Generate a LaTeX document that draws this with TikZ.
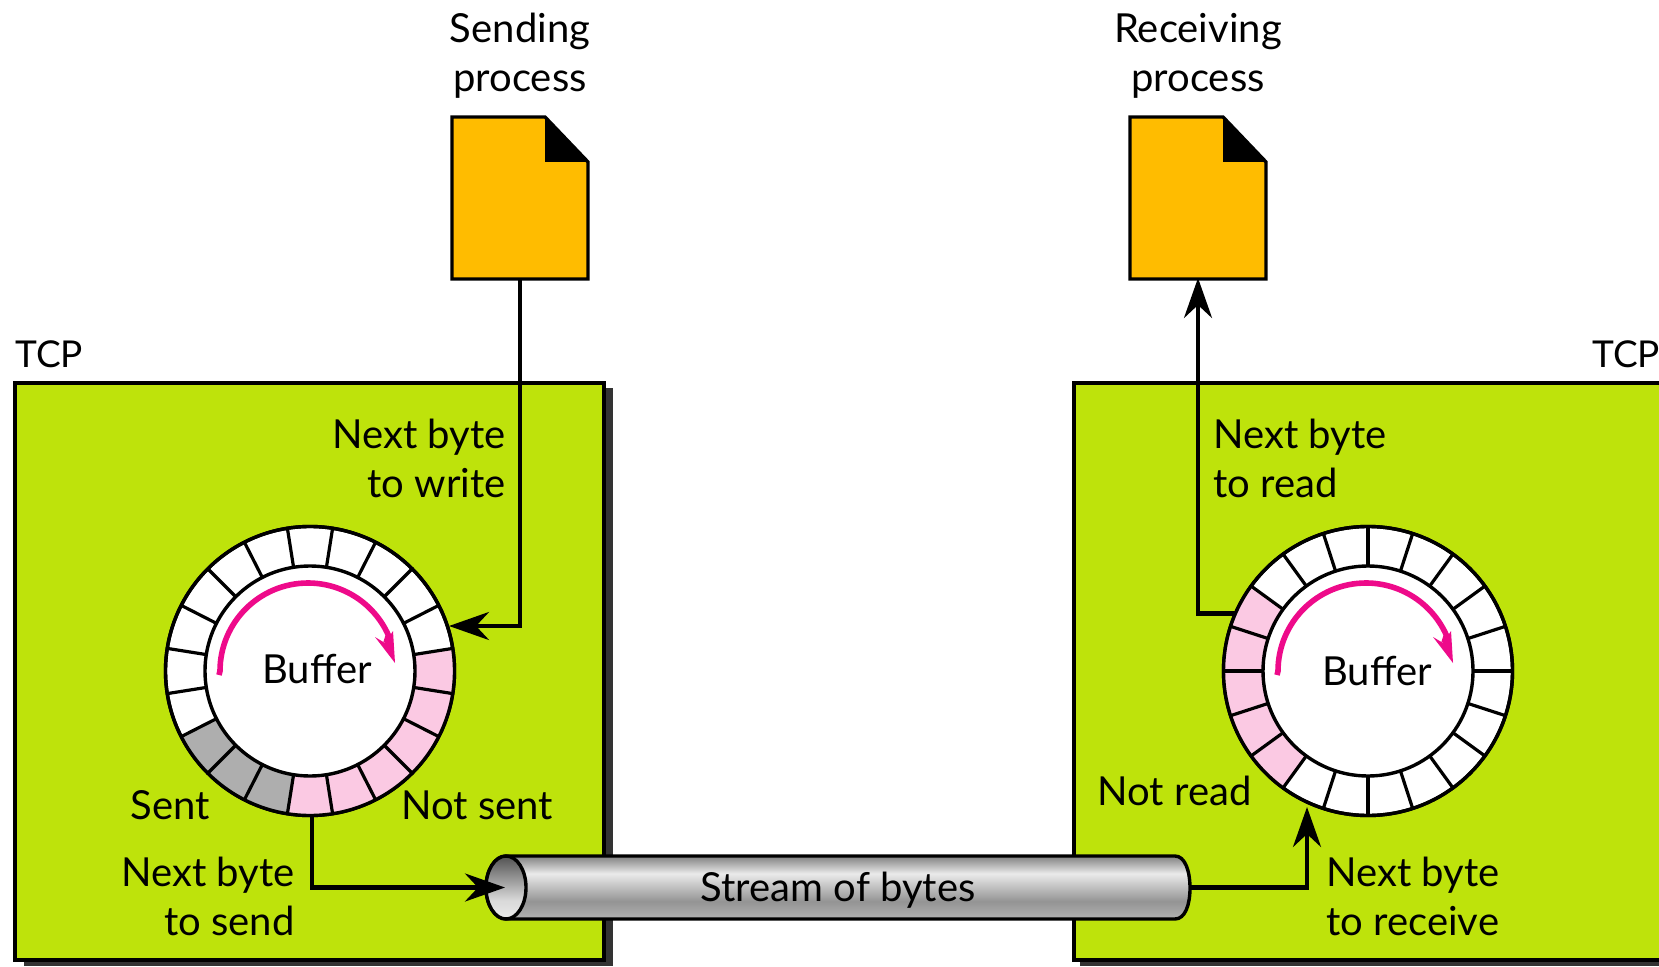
\documentclass[tikz,border=0pt]{standalone}
\usepackage{fontspec}
\setmainfont{Lato}
\usetikzlibrary{arrows.meta,calc}
\definecolor{tcpgreen}{RGB}{190,227,11}
\definecolor{docorange}{RGB}{255,188,0}
\definecolor{cellpink}{RGB}{251,201,227}
\definecolor{cellgray}{RGB}{174,174,174}
\definecolor{arcpink}{RGB}{238,10,138}
\definecolor{shadowgray}{RGB}{51,51,51}
\pgfdeclareverticalshading{pipeshade}{100bp}{color(0bp)=(black!30); color(25bp)=(black!30); color(39bp)=(black!42); color(61bp)=(black!8); color(75bp)=(black!50); color(100bp)=(black!50)}
\pgfdeclareverticalshading{holeshade}{100bp}{color(0bp)=(black!8); color(25bp)=(black!8); color(40bp)=(black!15); color(75bp)=(black!68); color(100bp)=(black!68)}
\tikzset{
  x=.5pt,y=.5pt,
  outline/.style={draw=black,line width=1.7pt},
  tcpbox/.style={outline,fill=tcpgreen},
  docshape/.style={outline,fill=docorange,line join=miter},
  ringnode/.style={circle,draw=black,line width=1.7pt,fill=white,minimum size=144.5pt,inner sep=0pt},
  hubnode/.style={circle,draw=black,line width=1.7pt,fill=white,minimum size=105pt,inner sep=0pt},
  docnode/.style={minimum width=68pt,minimum height=81pt,inner sep=0pt},
  conn/.style={draw=black,line width=2.1pt,line join=miter,-{Stealth[length=20pt,width=14pt,inset=6.5pt]}},
  lbl/.style={inner sep=0pt,font=\fontsize{20}{24.5}\selectfont,text=black},
  lblc/.style={lbl,align=center,anchor=base},
  lble/.style={lbl,align=right,anchor=base east},
  lblw/.style={lbl,align=left,anchor=base west},
}
\newcommand{\cellfill}[5]{% cx cy from to color
  \fill[#5] ($(#1,#2)+(#3:144.5*.5pt)$) arc[start angle=#3,end angle=#4,radius=72.25pt]
     -- ($(#1,#2)+(#4:52.5pt)$) arc[start angle=#4,end angle=#3,radius=52.5pt] -- cycle;}
\newcommand{\celllines}[3]{% cx cy offset
  \foreach \a in {0,18,...,342}{
    \draw[black,line width=1.6pt] ($(#1,#2)+(\a+#3:52.5pt)$) -- ($(#1,#2)+(\a+#3:72.25pt)$);}}
\begin{document}
\begin{tikzpicture}
\useasboundingbox (0,0) rectangle (1659,966);
\clip (0,0) rectangle (1659,966);
% TCP boxes
\fill[shadowgray] (24,0) rectangle (613,578);
\fill[shadowgray] (1080,0) rectangle (1670,578);
\draw[tcpbox] (15,6) rectangle (604,583);
\draw[tcpbox] (1074,6) rectangle (1675,583);
% Rings
\node[ringnode] (ringL) at (310,295) {};
\cellfill{310}{295}{9}{-99}{cellpink}
\cellfill{310}{295}{-99}{-153}{cellgray}
\celllines{310}{295}{9}
\draw[black,line width=1.7pt] (310,295) circle[radius=72.25pt];
\node[hubnode] (hubL) at (310,295) {};
\node[ringnode] (ringR) at (1368,295) {};
\cellfill{1368}{295}{144}{234}{cellpink}
\celllines{1368}{295}{0}
\draw[black,line width=1.7pt] (1368,295) circle[radius=72.25pt];
\node[hubnode] (hubR) at (1368,295) {};
% Direction arcs
\foreach \cx in {308,1366}{
  \draw[arcpink,line width=2.8pt] (\cx-89,291) -- (\cx-88,295) arc[start angle=180,end angle=24,radius=44pt] -- (\cx+78,323);
  \fill[arcpink] (\cx+87,303) -- (\cx+67,329) -- (\cx+77,323) -- (\cx+85,335) -- cycle;
}
% Documents
\draw[docshape] (452,687) -- (452,849) -- (545,849) -- (588,804) -- (588,687) -- cycle;
\fill[black] (545,849) -- (588,804) -- (545,804) -- cycle;
\node[docnode] (sendDoc) at (520,768) {};
\draw[docshape] (1130,687) -- (1130,849) -- (1223,849) -- (1266,804) -- (1266,687) -- cycle;
\fill[black] (1223,849) -- (1266,804) -- (1223,804) -- cycle;
\node[docnode] (recvDoc) at (1198,768) {};
% Pipe
\path[shading=pipeshade,draw=black,line width=1.7pt]
  (506,110) -- (1175,110) .. controls (1185,110) and (1190,95) .. (1190,78)
  .. controls (1190,61) and (1185,47) .. (1175,47) -- (506,47)
  .. controls (495,47) and (486,61) .. (486,78.5) .. controls (486,96) and (495,110) .. (506,110) -- cycle;
\path[shading=holeshade,draw=black,line width=1.7pt] (506,78.5) ellipse[x radius=20,y radius=31.5];
\node[inner sep=0pt,minimum width=352pt,minimum height=31.5pt] (pipe) at (838,78.5) {};
\node[lblc] (pipeLabel) at (838,65) {Stream of bytes};
% Connector ends
\coordinate (sendTip) at (449,340);
\coordinate (pipeIn) at (505,78.5);
\coordinate (recvTip) at (1307,159);
\coordinate (ringLout) at (312,151);
\coordinate (ringRout) at (1236,352.5);
\coordinate (recvIn) at (1198,688);
% Connectors
\draw[conn] (sendDoc.south) |- (sendTip);
\draw[conn] (ringLout) |- (pipeIn);
\draw[conn] (pipe.east) -- (1190,78.5) -| (recvTip);
\draw[conn] (ringRout) -| (recvIn);
% Labels
\node[lblc] (sendLabel) at (520,874) {Sending\\process};
\node[lblc] (recvLabel) at (1198,874) {Receiving\\process};
\node[lblw,font=\fontsize{18.5}{24.5}\selectfont] (tcpL) at (15,599) {TCP};
\node[lblw,font=\fontsize{18.5}{24.5}\selectfont] (tcpR) at (1592,599) {TCP};
\node[lble] (nbw) at (506,469) {Next byte\\to write};
\node[lblw] (nbr) at (1213,469) {Next byte\\to read};
\node[lblc] (bufL) at (317,283) {Buffer};
\node[lblc] (bufR) at (1377,281) {Buffer};
\node[lblw] (sent) at (130,147) {Sent};
\node[lblw] (notsent) at (401,147) {Not sent};
\node[lblw] (notread) at (1097,161) {Not read};
\node[lble] (nbs) at (295,31) {Next byte\\to send};
\node[lblw] (nbrc) at (1326,31) {Next byte\\to receive};
\end{tikzpicture}
\end{document}
